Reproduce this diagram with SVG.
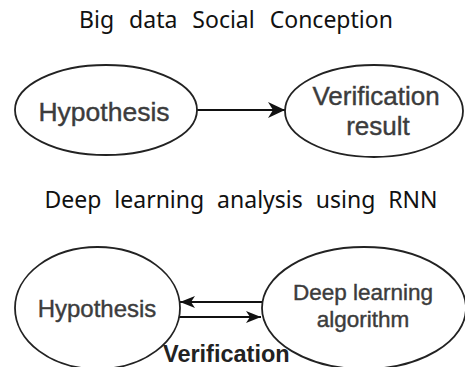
<svg xmlns="http://www.w3.org/2000/svg" width="465" height="367" viewBox="0 0 465 367">
  <defs>
    <style>
      .title { font-family: "Noto Sans", "Open Sans", sans-serif; font-size: 23px; fill: #111; text-anchor: middle; }
      .lbl { font-family: "Liberation Sans", Arial, sans-serif; fill: #3c3c3c; text-anchor: middle; stroke: #3c3c3c; stroke-width: 0.4; }
      .node { fill: #fff; stroke: #222; stroke-width: 1.8; }
      .edge { fill: none; stroke: #111; stroke-width: 2; }
    </style>
    <marker id="arrBig" markerUnits="userSpaceOnUse" markerWidth="18" markerHeight="18" refX="17" refY="8" orient="auto">
      <path d="M0,0 L17,8 L0,16 L5,8 Z" fill="#111"/>
    </marker>
    <marker id="arrSmall" markerUnits="userSpaceOnUse" markerWidth="16" markerHeight="14" refX="15" refY="6" orient="auto">
      <path d="M0,0 L15,6 L0,12 L4,6 Z" fill="#111"/>
    </marker>
  </defs>
  <rect width="465" height="367" fill="#fff"/>

  <text class="title" x="236" y="28" word-spacing="9">Big data Social Conception</text>

  <g id="connectors">
    <line class="edge" x1="197" y1="110" x2="285" y2="110" marker-end="url(#arrBig)"/>
    <line class="edge" x1="262" y1="302" x2="180" y2="302" marker-end="url(#arrSmall)"/>
    <line class="edge" x1="179" y1="317" x2="261" y2="317" marker-end="url(#arrSmall)"/>
  </g>

  <g id="hypothesis1">
    <ellipse class="node" cx="106" cy="110" rx="91" ry="45"/>
    <text class="lbl" x="104" y="121" font-size="26.5">Hypothesis</text>
  </g>
  <g id="verification-result">
    <ellipse class="node" cx="374" cy="111" rx="89" ry="46"/>
    <text class="lbl" x="376" y="105" font-size="26">Verification</text>
    <text class="lbl" x="378" y="135" font-size="26">result</text>
  </g>

  <text class="title" x="241" y="208" word-spacing="7">Deep learning analysis using RNN</text>

  <g id="hypothesis2">
    <ellipse class="node" cx="97.5" cy="308" rx="82.5" ry="61"/>
    <text class="lbl" x="97" y="317" font-size="24">Hypothesis</text>
  </g>
  <g id="deep-learning">
    <ellipse class="node" cx="364" cy="308" rx="102" ry="61"/>
    <text class="lbl" x="363" y="300" font-size="22.5">Deep learning</text>
    <text class="lbl" x="363" y="327" font-size="22.5">algorithm</text>
  </g>

  <text x="163" y="362" font-family="Liberation Sans, Arial, sans-serif" font-weight="bold" font-size="23.5" fill="#222">Verification</text>
</svg>
